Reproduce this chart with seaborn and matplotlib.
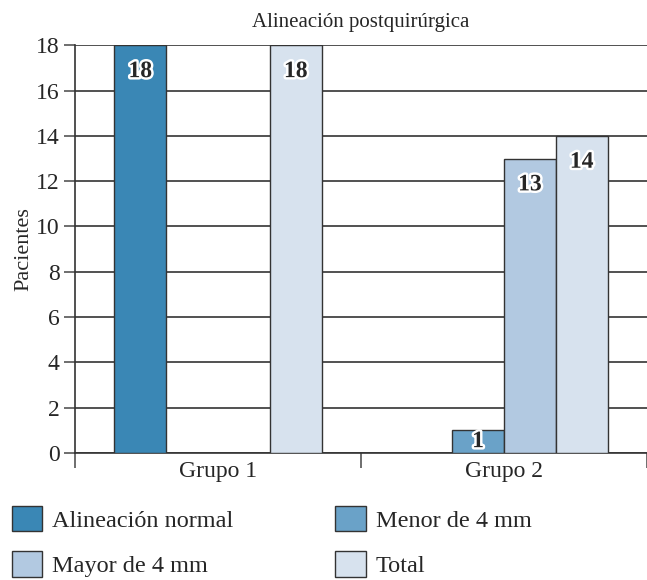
import numpy as np
import pandas as pd
import matplotlib
matplotlib.use("Agg")
import matplotlib.pyplot as plt
import matplotlib.patheffects as pe
import seaborn as sns

# ---------------------------------------------------------------------------
# Data
# ---------------------------------------------------------------------------
groups = ["Grupo 1", "Grupo 2"]
series = ["Alineación normal", "Menor de 4 mm", "Mayor de 4 mm", "Total"]
grupo1 = [18, np.nan, np.nan, 18]
grupo2 = [np.nan, 1, 13, 14]
colors = ["#3a87b5", "#6aa2c8", "#b2c9e1", "#d7e2ee"]

df = pd.DataFrame({
    "grupo": [groups[0]] * len(series) + [groups[1]] * len(series),
    "serie": series + series,
    "pacientes": grupo1 + grupo2,
})

sns.set_style("white")
plt.rcParams["font.family"] = ["Liberation Serif", "DejaVu Serif"]

fig = plt.figure(figsize=(6.47, 5.80), dpi=100)
ax = fig.add_axes([0.116, 0.219, 0.884, 0.703])

sns.barplot(data=df, x="grupo", y="pacientes", hue="serie", order=groups,
            hue_order=series, palette=colors, width=0.725, saturation=1,
            edgecolor="#333333", linewidth=1.0, ax=ax, legend=True, zorder=3)

# value labels: dark bold text with white halo, just inside the bar top
for cont in ax.containers:
    for bar in cont:
        h = bar.get_height()
        if np.isnan(h) or h == 0:
            continue
        x = bar.get_x() + bar.get_width() / 2
        if h > 2:
            t = ax.annotate(f"{h:.0f}", (x, h), xytext=(0, -19), textcoords="offset points",
                            ha="center", va="center", fontsize=17, fontweight="bold", zorder=5)
        else:
            t = ax.text(x, h / 2, f"{h:.0f}", ha="center", va="center",
                        fontsize=17, fontweight="bold", zorder=5)
        t.set_path_effects([pe.withStroke(linewidth=3.5, foreground="white")])

ax.set_ylim(0, 18)
ax.set_xlim(-0.5, 1.5)
ax.set_yticks(np.arange(0, 19, 2))
ax.yaxis.grid(True, color="#333333", linewidth=1.2, zorder=0)
ax.set_axisbelow(True)
ax.tick_params(axis="y", left=True, length=8, width=1.2, color="#555555", labelsize=17, pad=3)
ax.tick_params(axis="x", which="major", length=0, labelsize=17, pad=6)
ax.set_xticks([-0.5, 0.5, 1.5], minor=True)
ax.tick_params(axis="x", which="minor", bottom=True, length=11, width=1.2, color="#555555")

for side in ["top", "right"]:
    ax.spines[side].set_visible(False)
for side in ["left", "bottom"]:
    ax.spines[side].set_color("#333333")
    ax.spines[side].set_linewidth(1.2)

ax.set_xlabel("")
ax.set_ylabel("Pacientes", fontsize=16, labelpad=2)
ax.set_title("Alineación postquirúrgica", fontsize=15, pad=13)

handles, labels = ax.get_legend_handles_labels()
ax.get_legend().remove()
order = [0, 2, 1, 3]
fig.legend([handles[i] for i in order], [labels[i] for i in order],
           loc="lower left", bbox_to_anchor=(12 / 647, 3 / 580), borderaxespad=0,
           borderpad=0, ncol=2, frameon=False,
           fontsize=17.5, handlelength=1.25, handleheight=1.25, handletextpad=0.4,
           columnspacing=4.2, labelspacing=0.8)

fig.savefig("out.png", dpi=100)
